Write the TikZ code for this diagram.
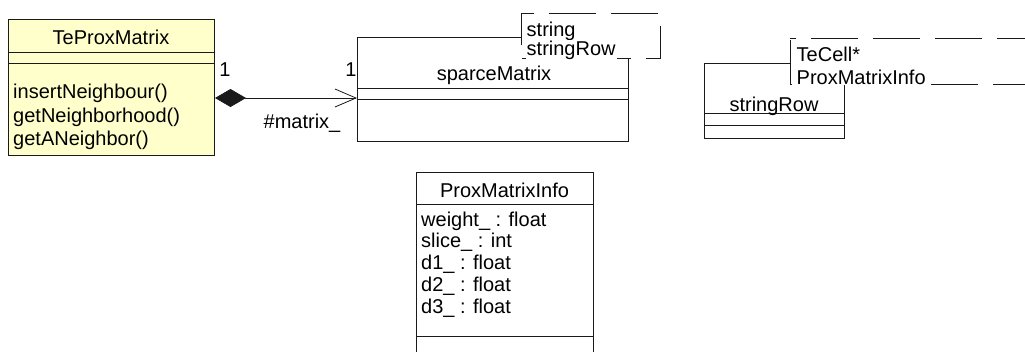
\documentclass[tikz,border=0pt]{standalone}
\usepackage{fontspec}
\setmainfont{Liberation Sans}
\usepackage{xcolor}
\definecolor{classfill}{HTML}{FFFFCC}
\definecolor{linecolor}{HTML}{1A1A1A}
\usetikzlibrary{positioning,arrows.meta,calc}
\tikzset{
    classbox/.style={
        rectangle,
        draw=linecolor,
        fill=white,
        anchor=north west,
        inner sep=0pt,
        line width=1pt,
    },
    tmplbox/.style={
        rectangle,
        fill=white,
        anchor=north west,
        inner sep=0pt,
    },
    tmplline/.style={
        line width=0.8pt,
        linecolor,
        dash pattern=on 47pt off 15pt,
    },
    sepline/.style={
        line width=1pt,
        linecolor,
    },
    umltext/.style={
        font=\fontsize{20}{23}\selectfont,
        inner sep=0pt,
        anchor=base west,
    },
    classname/.style={
        umltext,
        anchor=base,
    },
    tmpltext/.style={
        umltext,
        fill=white,
        inner sep=1pt,
    },
    composition/.style={
        {Diamond[length=31pt,width=18pt]}-{Straight Barb[length=21pt,width=18pt]},
        line width=0.8pt,
        linecolor,
    },
}

\begin{document}
\begin{tikzpicture}[x=1pt,y=-1pt]
    \useasboundingbox (0,0) rectangle (1025,351);

    % TeProxMatrix class
    \node[classbox, fill=classfill, minimum width=206pt, minimum height=136pt] (teprox) at (8,19) {};
    \draw[sepline] ($(teprox.north west)+(0,33)$) -- ($(teprox.north east)+(0,33)$);
    \draw[sepline] ($(teprox.north west)+(0,44)$) -- ($(teprox.north east)+(0,44)$);
    \node[classname] (teproxname) at (111,44) {TeProxMatrix};
    \foreach \op [count=\i] in {insertNeighbour(),getNeighborhood(),getANeighbor()} {
        \node[umltext] (op\i) at (13,75+23.5*\i) {\op};
    }

    % sparceMatrix class
    \node[classbox, minimum width=271pt, minimum height=104pt] (sparce) at (357,37) {};
    \draw[sepline] ($(sparce.north west)+(0,51)$) -- ($(sparce.north east)+(0,51)$);
    \draw[sepline] ($(sparce.north west)+(0,62)$) -- ($(sparce.north east)+(0,62)$);
    \node[classname] (sparcename) at (494,80) {sparceMatrix};

    % template parameters of sparceMatrix
    \node[tmplbox, minimum width=139pt, minimum height=45pt] (sparcetmpl) at (521,13) {};
    \draw[tmplline, dash phase=34pt] (sparcetmpl.north west) -- (sparcetmpl.north east)
        -- (sparcetmpl.south east) -- (sparcetmpl.south west) -- cycle;
    \node[tmpltext] (tmplstring) at (525.5,36.7) {string};
    \node[tmpltext] (tmplrow) at (525.5,55) {stringRow};

    % stringRow class
    \node[classbox, minimum width=140pt, minimum height=75pt] (row) at (704,63) {};
    \draw[sepline] ($(row.north west)+(0,50)$) -- ($(row.north east)+(0,50)$);
    \draw[sepline] ($(row.north west)+(0,62)$) -- ($(row.north east)+(0,62)$);
    \node[classname] (rowname) at (774,111) {stringRow};

    % template parameters of stringRow
    \node[tmplbox, minimum width=267pt, minimum height=46pt] (rowtmpl) at (790,38) {};
    \draw[tmplline, dash phase=41pt] (rowtmpl.north west) -- (rowtmpl.north east)
        -- (rowtmpl.south east) -- (rowtmpl.south west) -- cycle;
    \node[tmpltext] (tmplcell) at (795.5,61.7) {TeCell*};
    \node[tmpltext] (tmplinfo) at (795.5,84) {ProxMatrixInfo};

    % ProxMatrixInfo class
    \node[classbox, minimum width=177pt, minimum height=200pt] (info) at (416,172) {};
    \draw[sepline] ($(info.north west)+(0,32)$) -- ($(info.north east)+(0,32)$);
    \draw[sepline] ($(info.north west)+(0,164)$) -- ($(info.north east)+(0,164)$);
    \node[classname] (infoname) at (504.5,197) {ProxMatrixInfo};
    \foreach \attr [count=\i] in {weight\_ : float,slice\_ : int,d1\_ : float,d2\_ : float,d3\_ : float} {
        \node[umltext] (attr\i) at (421,204.2+21.8*\i) {\attr};
    }

    % composition TeProxMatrix -> sparceMatrix
    \draw[composition] ($(teprox.north east)+(0,79)$) -- ($(sparce.north west)+(0,61)$);
    \node[classname] (srcmult) at (225,76) {1};
    \node[classname] (dstmult) at (351,76) {1};
    \node[classname] (rolename) at (302,128) {\#matrix\_};

\end{tikzpicture}
\end{document}
